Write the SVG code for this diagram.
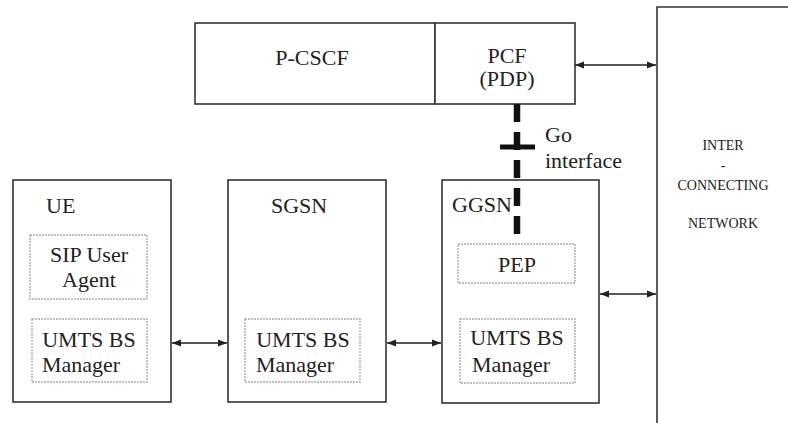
<svg xmlns="http://www.w3.org/2000/svg" width="788" height="423" viewBox="0 0 788 423" font-family="Liberation Serif, Times New Roman, Times, serif">
  <defs>
    <marker id="head" markerWidth="10" markerHeight="8" refX="9" refY="4" orient="auto-start-reverse" markerUnits="userSpaceOnUse">
      <path d="M0,0.5 L9,4 L0,7.5 Z" fill="#222"/>
    </marker>
    <style>
      .box { fill: #fff; stroke: #333; stroke-width: 1.6; }
      .sub { fill: none; stroke: #aaa; stroke-width: 1.4; stroke-dasharray: 2 1; }
      text { fill: #222; }
      .lbl { font-size: 22px; }
      .mid { text-anchor: middle; }
      .net { font-size: 14px; text-anchor: middle; }
      .link { stroke: #222; stroke-width: 1.6; fill: none; marker-start: url(#head); marker-end: url(#head); }
      .go { stroke: #111; stroke-width: 6.5; fill: none; }
    </style>
  </defs>
  <rect width="788" height="423" fill="#fff"/>

  <!-- Inter-connecting network (runs off the right and bottom edges) -->
  <g id="network">
    <path d="M657,423 V7 H790" fill="none" stroke="#333" stroke-width="1.6"/>
    <text class="net" x="723" y="150">INTER</text>
    <text class="net" x="723" y="170">-</text>
    <text class="net" x="723" y="190">CONNECTING</text>
    <text class="net" x="723" y="228">NETWORK</text>
  </g>

  <g id="pcscf">
    <rect class="box" x="195" y="23" width="240" height="81"/>
    <text class="lbl mid" x="312" y="65">P-CSCF</text>
  </g>

  <g id="pcf">
    <rect class="box" x="435" y="23" width="140" height="81"/>
    <text class="lbl mid" x="507" y="63">PCF</text>
    <text class="lbl mid" x="507" y="86">(PDP)</text>
  </g>

  <g id="ue">
    <rect class="box" x="13" y="180" width="158" height="222"/>
    <text class="lbl" x="46" y="213">UE</text>
    <rect class="sub" x="30" y="235" width="117" height="64"/>
    <text class="lbl mid" x="89" y="262">SIP User</text>
    <text class="lbl mid" x="89" y="287">Agent</text>
    <rect class="sub" x="32" y="319" width="115" height="63"/>
    <text class="lbl mid" x="89" y="347">UMTS BS</text>
    <text class="lbl" x="42" y="372">Manager</text>
  </g>

  <g id="sgsn">
    <rect class="box" x="228" y="180" width="158" height="222"/>
    <text class="lbl" x="271" y="213">SGSN</text>
    <rect class="sub" x="245" y="319" width="115" height="63"/>
    <text class="lbl mid" x="303" y="347">UMTS BS</text>
    <text class="lbl" x="256" y="372">Manager</text>
  </g>

  <g id="ggsn">
    <rect class="box" x="442" y="180" width="157" height="223"/>
    <text class="lbl" x="452" y="212">GGSN</text>
    <rect class="sub" x="458" y="244" width="117" height="39"/>
    <text class="lbl mid" x="517" y="272">PEP</text>
    <rect class="sub" x="460" y="319" width="115" height="64"/>
    <text class="lbl mid" x="517" y="345">UMTS BS</text>
    <text class="lbl" x="472" y="372">Manager</text>
  </g>

  <g id="connectors">
    <line class="link" x1="575" y1="65" x2="656" y2="65"/>
    <line class="link" x1="172" y1="343" x2="227" y2="343"/>
    <line class="link" x1="387" y1="343" x2="441" y2="343"/>
    <line class="link" x1="600" y1="294" x2="656" y2="294"/>
    <!-- Go interface between PCF and PEP -->
    <line class="go" x1="517" y1="104" x2="517" y2="236" stroke-dasharray="18 10"/>
    <line x1="500" y1="147" x2="535" y2="147" stroke="#111" stroke-width="5"/>
    <text class="lbl" x="545" y="142">Go</text>
    <text class="lbl" x="545" y="168">interface</text>
  </g>
</svg>
